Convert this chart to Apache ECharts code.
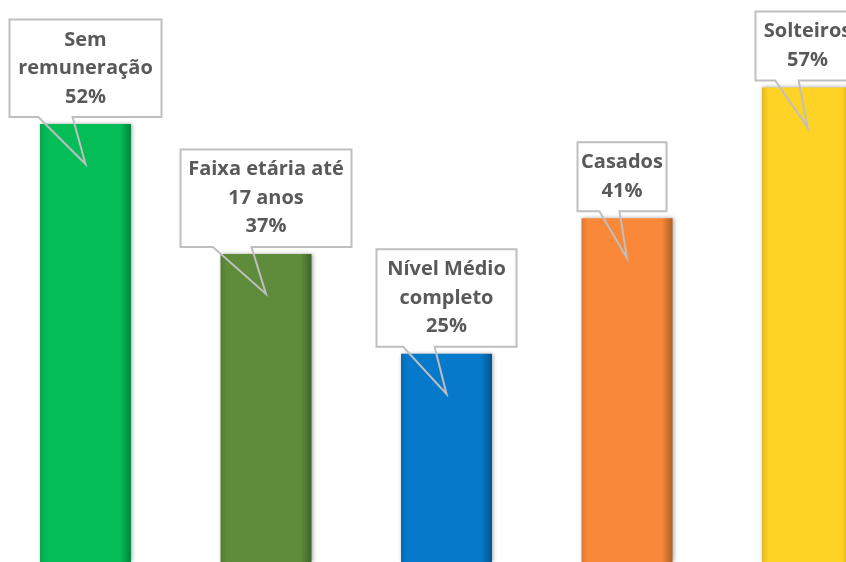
<!DOCTYPE html>
<html>
<head>
<meta charset="utf-8">
<script src="https://cdn.jsdelivr.net/npm/echarts@6/dist/echarts.min.js"></script>
<style>
html,body{margin:0;padding:0;background:#fff;}
#chart{width:846px;height:562px;}
</style>
</head>
<body>
<div id="chart"></div>
<script>
// ---- data ----
var categories = ['Sem remuneração', 'Faixa etária até 17 anos', 'Nível Médio completo', 'Casados', 'Solteiros'];
var labelNames = ['Sem\nremuneração', 'Faixa etária até\n17 anos', 'Nível Médio\ncompleto', 'Casados', 'Solteiros'];
var values = [52.6, 37, 25, 41.3, 57];
var pctLabels = ['52%', '37%', '25%', '41%', '57%'];

// ---- styles ----
var barColors = ['#05BD57', '#5E8C3B', '#0679CA', '#F98838', '#FED325'];
var boxWidths = [152, 171, 140, 89, 104];
var boxDx = [0, 0, 0, -5, 0];

function shade(hex, f) {
  var n = parseInt(hex.slice(1), 16);
  var r = (n >> 16) & 255, g = (n >> 8) & 255, b = n & 255;
  function c(x) { return Math.max(0, Math.min(255, Math.round(f < 0 ? x * (1 + f) : x + (255 - x) * f))); }
  return 'rgb(' + c(r) + ',' + c(g) + ',' + c(b) + ')';
}

var chart = echarts.init(document.getElementById('chart'), null, {renderer: 'canvas'});

var barData = values.map(function (v, i) {
  var col = barColors[i];
  return {
    value: v,
    itemStyle: {
      color: new echarts.graphic.LinearGradient(0, 0, 1, 0, [
        {offset: 0, color: shade(col, -0.12)},
        {offset: 0.07, color: col},
        {offset: 0.88, color: col},
        {offset: 1, color: shade(col, -0.3)}
      ]),
      shadowColor: 'rgba(0,0,0,0.35)',
      shadowBlur: 4,
      shadowOffsetX: 1
    }
  };
});

var LINE_H = 28.5;

var option = {
  animation: false,
  backgroundColor: '#ffffff',
  grid: {left: 85.5, width: 722, top: 0, bottom: 0, containLabel: false},
  xAxis: {
    type: 'category',
    data: categories,
    boundaryGap: false,
    show: false
  },
  yAxis: {
    type: 'value',
    min: 0,
    max: 67.5,
    show: false
  },
  series: [
    {
      type: 'bar',
      data: barData,
      barWidth: 91,
      clip: false,
      z: 2
    },
    {
      type: 'custom',
      coordinateSystem: 'cartesian2d',
      clip: false,
      z: 5,
      data: values.map(function (v, i) { return [i, v]; }),
      encode: {x: 0, y: 1},
      renderItem: function (params, api) {
        var i = params.dataIndex;
        var p = api.coord([api.value(0), api.value(1)]);
        var cx = p[0];
        var barTop = p[1];
        var text = labelNames[i] + '\n' + pctLabels[i];
        var nLines = text.split('\n').length;
        var h = nLines * LINE_H + 12;
        var w = boxWidths[i];
        var bx = cx + boxDx[i];
        var bottom = barTop - 7;
        var top = bottom - h;
        var left = bx - w / 2, right = bx + w / 2;
        var baseL = cx - w * 0.31, baseR = cx - w * 0.085;
        var tip = [cx, barTop + 40];
        return {
          type: 'group',
          children: [
            {
              type: 'polygon',
              shape: {points: [[left, top], [right, top], [right, bottom], [baseR, bottom], tip, [baseL, bottom], [left, bottom]]},
              style: {fill: 'none', stroke: '#BFBFBF', lineWidth: 2, lineJoin: 'miter'}
            },
            {
              type: 'text',
              x: bx,
              y: top + h / 2,
              style: {
                text: text,
                font: 'bold 20px "Open Sans"',
                fill: '#595959',
                align: 'center',
                verticalAlign: 'middle',
                lineHeight: LINE_H
              }
            }
          ]
        };
      }
    }
  ]
};
chart.setOption(option);
</script>
</body>
</html>
